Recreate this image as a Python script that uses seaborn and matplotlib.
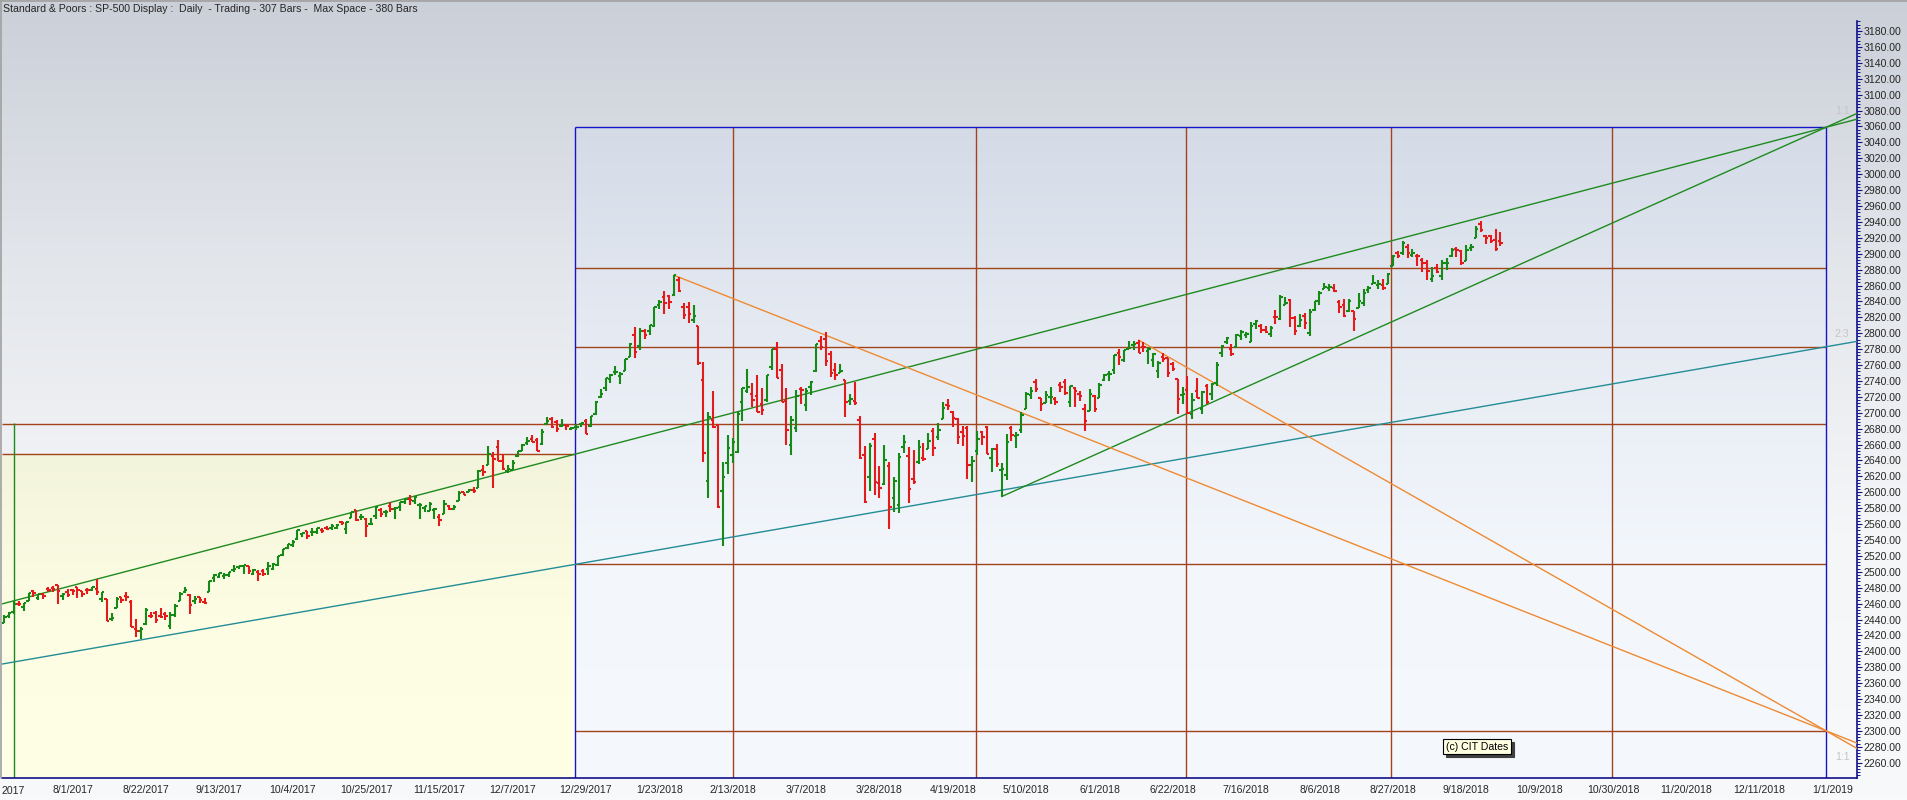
import numpy as np
import pandas as pd
import matplotlib.pyplot as plt
import seaborn as sns
from matplotlib.colors import LinearSegmentedColormap
from matplotlib.ticker import FixedLocator, FormatStrFormatter
import matplotlib.transforms as mtransforms

sns.set_style("white")
plt.rcParams['font.family'] = ['Liberation Sans', 'DejaVu Sans']

# ---- data: S&P-500 daily bars, 7/12/2017 .. 9/27/2018 (bar 1 .. 307) ----
opens = [
    2435.8, 2444.0, 2449.2, 2459.5, 2455.9, 2463.9, 2475.6, 2467.4, 2472.0, 2477.9, 2479.9, 2482.8, 2469.1, 2475.0,
    2477.1, 2480.4, 2476.0, 2476.9, 2477.1, 2478.4, 2465.4, 2465.4, 2441.0, 2454.0, 2468.6, 2470.0, 2462.0, 2427.6, 2425.5, 2433.8, 2444.9, 2447.9, 2444.7, 2447.4, 2431.9, 2446.1, 2462.7,
    2474.4, 2470.4, 2463.8, 2468.1, 2462.3, 2474.5, 2491.9, 2493.9, 2494.6, 2495.7, 2502.5, 2506.3, 2506.8, 2507.2, 2497.3, 2499.4, 2501.0, 2503.3, 2503.4, 2509.0,
    2521.2, 2530.3, 2533.5, 2540.9, 2547.4, 2551.4, 2549.9, 2550.3, 2552.9, 2555.7, 2555.6, 2555.7, 2562.9, 2553.4, 2567.6, 2578.1, 2568.7, 2566.5, 2560.1, 2570.3, 2577.8, 2575.0,
    2583.2, 2579.5, 2581.9, 2587.5, 2592.1, 2588.7, 2584.0, 2580.2, 2576.5, 2577.8, 2569.4, 2572.9, 2582.9, 2579.5, 2589.2, 2600.3, 2600.4, 2602.7, 2605.9, 2627.8, 2633.9,
    2645.1, 2657.2, 2639.8, 2626.2, 2628.4, 2646.2, 2652.2, 2661.7, 2667.6, 2665.9, 2660.6, 2685.9, 2692.7, 2688.2, 2683.0, 2684.2, 2679.1, 2682.1, 2686.1, 2689.2,
    2683.7, 2697.9, 2719.3, 2731.3, 2742.7, 2751.2, 2745.6, 2752.0, 2770.2, 2798.0, 2784.0, 2802.4, 2802.6, 2809.2, 2835.1, 2845.4, 2846.2, 2847.5, 2867.2, 2832.7, 2832.4,
    2816.5, 2808.9, 2741.1, 2614.8, 2691.0, 2685.0, 2601.8, 2636.8, 2646.3, 2651.2, 2713.5, 2727.1, 2723.0, 2720.5, 2710.4, 2715.8, 2757.4, 2780.5, 2753.8,
    2715.2, 2658.9, 2681.1, 2730.2, 2710.2, 2732.8, 2752.9, 2790.5, 2792.3, 2774.1, 2754.3, 2750.6, 2741.4, 2715.1, 2715.0, 2691.4, 2646.7, 2619.4, 2667.6, 2611.3, 2610.4,
    2633.5, 2592.2, 2584.0, 2657.4, 2645.8, 2617.2, 2638.4, 2643.0, 2653.8, 2676.9, 2670.1, 2692.7, 2710.1, 2701.2, 2692.6, 2675.4, 2680.8, 2634.9, 2651.7, 2675.5, 2682.5,
    2643.0, 2654.2, 2628.1, 2621.5, 2680.3, 2670.3, 2678.1, 2705.0, 2722.7, 2738.3, 2718.6, 2712.6, 2719.7, 2717.4, 2735.4, 2738.3, 2714.0, 2730.9, 2723.6, 2705.1, 2702.4, 2721.0,
    2718.7, 2741.7, 2748.5, 2753.3, 2774.8, 2765.8, 2780.2, 2785.6, 2787.9, 2783.2, 2777.8, 2765.8, 2752.0, 2769.7, 2769.3, 2760.8, 2742.9, 2722.1, 2728.5, 2698.7, 2727.1,
    2705.0, 2733.3, 2724.2, 2737.7, 2775.6, 2788.6, 2779.8, 2783.1, 2796.9, 2797.4, 2789.3, 2811.4, 2809.4, 2804.6, 2799.2, 2820.7, 2817.7, 2835.5, 2842.4, 2819.0, 2809.7,
    2821.2, 2800.5, 2829.6, 2840.3, 2855.9, 2856.8, 2857.2, 2838.9, 2835.5, 2827.9, 2828.0, 2831.4, 2838.3, 2853.9, 2861.5, 2861.0, 2860.3, 2862.4, 2884.7, 2901.5, 2900.6, 2908.9, 2898.4,
    2897.0, 2891.6, 2888.6, 2868.3, 2881.4, 2871.6, 2888.3, 2896.9, 2906.4, 2903.8, 2890.7, 2906.6, 2919.7, 2936.8, 2921.8, 2921.8, 2917.0, 2916.0,
]
highs = [
    2445.8, 2449.3, 2463.5, 2462.8, 2460.9, 2473.8, 2477.6, 2472.5, 2473.1, 2481.2, 2481.7, 2484.0, 2473.5, 2477.9,
    2478.5, 2480.4, 2476.3, 2480.0, 2480.9, 2490.9, 2474.4, 2465.4, 2448.1, 2468.2, 2468.6, 2474.9, 2465.0, 2440.3, 2430.6, 2454.8, 2448.9, 2450.4, 2453.9, 2449.1, 2449.2, 2460.1, 2475.0,
    2480.4, 2471.9, 2469.6, 2468.6, 2467.1, 2488.9, 2496.8, 2498.4, 2498.4, 2500.2, 2508.3, 2507.8, 2508.9, 2507.2, 2503.5, 2502.5, 2503.5, 2511.8, 2510.8, 2519.4,
    2529.2, 2535.1, 2540.5, 2552.5, 2549.4, 2551.8, 2555.2, 2555.2, 2555.3, 2557.7, 2559.5, 2559.7, 2564.1, 2562.4, 2575.4, 2578.3, 2572.2, 2567.4, 2567.1, 2582.9, 2580.0, 2578.0,
    2588.4, 2581.1, 2588.4, 2593.4, 2597.0, 2595.5, 2586.5, 2583.0, 2587.7, 2579.7, 2572.8, 2590.1, 2583.4, 2584.6, 2601.2, 2600.9, 2604.2, 2606.4, 2627.7, 2634.9, 2657.7,
    2650.6, 2665.2, 2648.7, 2634.4, 2640.2, 2651.7, 2660.3, 2669.7, 2671.9, 2668.1, 2679.6, 2694.9, 2694.2, 2691.0, 2692.6, 2685.4, 2682.7, 2685.6, 2687.7, 2692.1,
    2695.9, 2714.4, 2729.3, 2743.5, 2748.5, 2759.1, 2750.8, 2767.6, 2787.9, 2807.5, 2807.0, 2805.8, 2810.3, 2833.0, 2842.2, 2853.0, 2848.6, 2872.9, 2870.6, 2837.8, 2839.3,
    2836.0, 2808.9, 2763.4, 2701.0, 2727.7, 2685.3, 2638.7, 2672.6, 2668.8, 2702.1, 2731.5, 2754.4, 2737.6, 2747.8, 2731.3, 2747.8, 2780.0, 2789.2, 2761.5,
    2730.9, 2696.3, 2728.1, 2732.1, 2730.6, 2740.5, 2786.6, 2797.0, 2801.9, 2777.1, 2763.0, 2761.9, 2741.4, 2724.2, 2739.1, 2695.7, 2657.7, 2661.4, 2674.8, 2632.7, 2659.1,
    2638.3, 2619.1, 2649.9, 2672.1, 2656.9, 2653.6, 2665.5, 2661.4, 2674.7, 2680.3, 2686.5, 2713.3, 2717.5, 2702.8, 2693.9, 2682.9, 2683.6, 2645.3, 2676.5, 2677.4, 2682.9,
    2655.3, 2660.9, 2637.1, 2673.6, 2683.4, 2676.3, 2701.3, 2726.1, 2732.9, 2742.1, 2718.6, 2727.8, 2732.0, 2719.5, 2739.2, 2742.2, 2733.3, 2732.0, 2727.4, 2710.7, 2729.3, 2722.5,
    2736.9, 2749.2, 2752.6, 2772.4, 2779.9, 2779.4, 2790.2, 2789.8, 2791.5, 2789.1, 2782.8, 2775.0, 2765.1, 2774.9, 2769.3, 2764.2, 2742.9, 2732.9, 2746.1, 2724.3, 2743.3,
    2727.3, 2736.6, 2737.8, 2764.4, 2784.7, 2795.6, 2785.9, 2799.2, 2804.5, 2801.2, 2814.2, 2816.8, 2812.1, 2809.7, 2808.6, 2829.0, 2848.0, 2845.6, 2843.2, 2821.7, 2824.5,
    2825.8, 2829.9, 2840.4, 2853.3, 2863.4, 2862.4, 2862.5, 2842.2, 2843.4, 2843.1, 2828.0, 2850.5, 2855.6, 2859.8, 2873.2, 2867.5, 2868.8, 2876.2, 2898.3, 2903.8, 2916.5, 2912.5, 2906.3,
    2900.2, 2894.2, 2892.1, 2883.8, 2886.9, 2892.5, 2894.7, 2906.8, 2908.3, 2904.7, 2911.2, 2912.4, 2934.8, 2940.9, 2923.8, 2924.0, 2931.2, 2927.2,
]
lows = [
    2435.8, 2441.4, 2446.7, 2457.2, 2450.3, 2463.9, 2468.4, 2465.1, 2466.3, 2474.9, 2474.9, 2459.9, 2464.7, 2468.9,
    2471.1, 2466.5, 2468.9, 2472.1, 2475.9, 2470.3, 2462.1, 2437.8, 2437.9, 2454.0, 2460.8, 2463.9, 2430.0, 2417.4, 2415.3, 2433.7, 2441.4, 2436.2, 2442.2, 2439.0, 2428.2, 2443.8, 2462.7,
    2473.9, 2446.6, 2459.2, 2460.3, 2459.4, 2474.5, 2487.7, 2492.1, 2491.5, 2493.2, 2499.9, 2503.2, 2496.7, 2497.0, 2496.1, 2488.0, 2495.1, 2495.9, 2502.9, 2507.0,
    2520.4, 2528.9, 2531.8, 2540.0, 2544.0, 2541.6, 2544.4, 2547.9, 2548.3, 2552.0, 2552.6, 2554.0, 2559.2, 2547.9, 2567.6, 2564.3, 2565.6, 2544.0, 2559.5, 2566.2, 2568.3, 2568.7,
    2574.9, 2566.2, 2576.8, 2585.7, 2584.4, 2585.0, 2566.3, 2575.6, 2576.5, 2566.6, 2557.4, 2572.9, 2577.3, 2578.2, 2589.2, 2596.5, 2600.4, 2598.9, 2605.4, 2620.3, 2633.9,
    2605.5, 2639.0, 2627.7, 2624.8, 2628.4, 2644.1, 2652.2, 2659.8, 2662.9, 2652.0, 2659.1, 2685.9, 2680.7, 2676.1, 2682.4, 2678.1, 2677.9, 2678.9, 2682.7, 2673.6,
    2682.4, 2697.8, 2719.1, 2727.9, 2737.6, 2747.9, 2736.1, 2752.0, 2769.6, 2768.6, 2778.4, 2792.6, 2798.1, 2808.1, 2830.6, 2824.8, 2830.9, 2846.2, 2851.5, 2818.3, 2813.0,
    2812.7, 2760.0, 2638.2, 2593.1, 2681.3, 2580.6, 2532.7, 2622.5, 2637.1, 2648.9, 2689.8, 2725.1, 2706.8, 2701.3, 2697.8, 2713.7, 2753.8, 2744.2, 2713.5,
    2659.7, 2647.3, 2675.8, 2711.3, 2701.7, 2722.7, 2751.5, 2779.3, 2758.7, 2744.4, 2741.5, 2750.0, 2694.6, 2710.1, 2709.8, 2641.6, 2585.9, 2601.8, 2596.1, 2593.1, 2609.7,
    2553.8, 2575.5, 2573.6, 2649.6, 2586.3, 2610.8, 2635.8, 2639.3, 2653.8, 2645.1, 2665.2, 2692.1, 2703.6, 2681.9, 2660.6, 2657.7, 2617.3, 2612.7, 2647.2, 2659.0, 2648.0,
    2625.4, 2631.7, 2594.6, 2615.3, 2664.7, 2655.2, 2674.1, 2704.5, 2717.5, 2725.9, 2701.9, 2712.2, 2711.4, 2709.2, 2725.7, 2721.9, 2707.4, 2707.4, 2715.0, 2676.8, 2702.4, 2700.7,
    2718.7, 2740.5, 2739.5, 2748.5, 2760.2, 2763.6, 2779.9, 2778.8, 2774.7, 2776.5, 2761.7, 2757.1, 2743.2, 2763.9, 2744.4, 2752.7, 2698.7, 2711.3, 2698.9, 2692.0, 2718.0,
    2699.0, 2711.2, 2716.0, 2733.5, 2770.7, 2786.2, 2770.8, 2781.5, 2791.7, 2793.4, 2789.2, 2805.9, 2799.8, 2800.0, 2795.1, 2811.1, 2817.0, 2835.3, 2808.3, 2798.1, 2808.1,
    2805.9, 2796.3, 2827.4, 2836.0, 2855.9, 2853.1, 2852.0, 2825.8, 2819.9, 2826.6, 2802.5, 2831.4, 2833.7, 2850.6, 2861.3, 2856.1, 2854.0, 2862.4, 2884.7, 2894.0, 2898.4, 2895.2, 2895.8,
    2885.1, 2876.9, 2867.3, 2864.1, 2875.9, 2867.3, 2879.2, 2896.4, 2895.8, 2886.2, 2890.4, 2903.8, 2919.7, 2927.1, 2912.6, 2913.7, 2903.3, 2909.3,
]
closes = [
    2443.3, 2447.8, 2459.3, 2459.1, 2460.6, 2473.8, 2473.5, 2472.5, 2469.9, 2477.1, 2477.8, 2475.4, 2472.1, 2470.3,
    2476.4, 2477.6, 2472.2, 2476.8, 2480.9, 2474.9, 2474.0, 2438.2, 2441.3, 2465.8, 2464.6, 2468.1, 2430.0, 2425.6, 2428.4, 2452.5, 2444.0, 2439.0, 2443.1, 2444.2, 2446.3, 2457.6, 2471.7,
    2476.6, 2457.9, 2465.5, 2465.1, 2461.4, 2488.1, 2496.5, 2498.4, 2495.6, 2500.2, 2503.9, 2506.7, 2508.2, 2500.6, 2502.2, 2496.7, 2496.8, 2507.0, 2510.1, 2519.4,
    2529.1, 2534.6, 2537.7, 2552.1, 2549.3, 2544.7, 2550.6, 2555.2, 2550.9, 2553.2, 2557.6, 2559.4, 2561.3, 2562.1, 2575.2, 2565.0, 2569.1, 2557.2, 2560.4, 2581.1, 2572.8, 2575.3,
    2579.4, 2579.9, 2587.8, 2591.1, 2590.6, 2594.4, 2584.6, 2582.3, 2584.8, 2578.9, 2564.6, 2585.6, 2578.9, 2582.1, 2599.0, 2597.1, 2602.4, 2601.4, 2627.0, 2626.1, 2647.6,
    2642.2, 2639.4, 2629.6, 2629.3, 2637.0, 2651.5, 2660.0, 2664.1, 2662.9, 2652.0, 2675.8, 2690.2, 2681.5, 2679.3, 2684.6, 2683.3, 2680.5, 2682.6, 2687.5, 2673.6,
    2695.8, 2713.1, 2724.0, 2743.2, 2747.7, 2751.3, 2748.2, 2767.6, 2786.2, 2776.4, 2802.6, 2798.0, 2810.3, 2833.0, 2839.1, 2837.5, 2839.3, 2872.9, 2853.5, 2822.4, 2823.8,
    2822.0, 2762.1, 2648.9, 2695.1, 2681.7, 2581.0, 2619.6, 2656.0, 2662.9, 2698.6, 2731.2, 2732.2, 2716.3, 2701.3, 2704.0, 2747.3, 2779.6, 2744.3, 2713.8,
    2677.7, 2691.3, 2720.9, 2728.1, 2726.8, 2739.0, 2786.6, 2783.0, 2765.3, 2749.5, 2747.3, 2752.0, 2712.9, 2716.9, 2711.9, 2643.7, 2588.3, 2658.6, 2612.6, 2605.0, 2640.9,
    2581.9, 2614.5, 2644.7, 2662.8, 2604.5, 2613.2, 2656.9, 2642.2, 2664.0, 2656.3, 2677.8, 2706.4, 2708.6, 2693.1, 2670.1, 2670.3, 2634.6, 2639.4, 2666.9, 2669.9, 2648.1,
    2654.8, 2635.7, 2629.7, 2663.4, 2672.6, 2671.9, 2697.8, 2723.1, 2727.7, 2730.1, 2711.5, 2722.5, 2720.1, 2713.0, 2733.0, 2724.4, 2733.3, 2727.8, 2721.3, 2689.9, 2724.0, 2705.3,
    2734.6, 2746.9, 2748.8, 2772.4, 2770.4, 2779.0, 2782.0, 2786.9, 2775.6, 2782.5, 2779.7, 2773.8, 2762.6, 2767.3, 2749.8, 2754.9, 2717.1, 2723.1, 2699.6, 2716.3, 2718.4,
    2726.7, 2713.2, 2736.6, 2759.8, 2784.2, 2793.8, 2774.0, 2798.3, 2801.3, 2798.4, 2809.6, 2815.6, 2804.5, 2801.8, 2807.0, 2820.4, 2846.1, 2837.4, 2818.8, 2802.6, 2816.3,
    2813.4, 2827.2, 2840.4, 2850.4, 2858.5, 2857.7, 2853.6, 2833.3, 2821.9, 2840.0, 2818.4, 2840.7, 2850.1, 2857.1, 2863.0, 2861.8, 2857.0, 2874.7, 2896.7, 2897.5, 2914.0, 2901.1, 2901.5,
    2896.7, 2888.6, 2878.1, 2871.7, 2877.1, 2887.9, 2888.9, 2904.2, 2905.0, 2888.8, 2904.3, 2908.0, 2930.8, 2929.7, 2919.4, 2915.6, 2906.0, 2914.0,
]

# x axis labels, one every 15 trading bars starting at bar 0 (7/11/2017)
tick_dates = ['7/11/2017', '8/1/2017', '8/22/2017', '9/13/2017', '10/4/2017', '10/25/2017',
              '11/15/2017', '12/7/2017', '12/29/2017', '1/23/2018', '2/13/2018', '3/7/2018',
              '3/28/2018', '4/19/2018', '5/10/2018', '6/1/2018', '6/22/2018', '7/16/2018',
              '8/6/2018', '8/27/2018', '9/18/2018', '10/9/2018', '10/30/2018', '11/20/2018',
              '12/11/2018', '1/1/2019']

# gann box drawn over the chart (bar numbers / prices)
box_left, box_right, box_top = 117.8, 373.6, 3059.0
box_rows = [2882.0, 2783.0, 2685.5, 2509.4, 2300.0]
box_cols = [150.1, 199.8, 242.8, 284.7, 329.8]
yellow_top = 2648.0
start_line_bar = 3.1

# chart frame in bar numbers / prices
x_min, x_max = 0.57, 379.92
y_min, y_max = 2241.1, 3216.5

df = pd.DataFrame({'bar': np.arange(1, len(closes) + 1), 'open': opens, 'high': highs,
                   'low': lows, 'close': closes})
up_col, dn_col = '#168a16', '#e41b1b'
df['color'] = np.where(df['close'] >= df['open'], up_col, dn_col)

W, H = 1908, 800
fig = plt.figure(figsize=(W / 100, H / 100), dpi=100)

# window background gradient
bg = fig.add_axes([0, 0, 1, 1])
grad = np.linspace(0, 1, 256).reshape(-1, 1)
bg_cmap = LinearSegmentedColormap.from_list('bg', ['#cbcfd8', '#e3e6eb', '#f5f6f8', '#f8f9fa'])
bg.imshow(grad, aspect='auto', cmap=bg_cmap, extent=[0, 1, 0, 1], origin='upper')
bg.set_axis_off()

ax = fig.add_axes([2 / W, 22.3 / H, 1855 / W, 775.7 / H])
ax.patch.set_visible(False)

# yellow zone and blue box fills
yel_cmap = LinearSegmentedColormap.from_list('yel', ['#f3f4dc', '#fdfde3', '#ffffe6'])
ax.imshow(grad, aspect='auto', cmap=yel_cmap, extent=[x_min, box_left, y_min, yellow_top],
          origin='upper', zorder=0)
box_cmap = LinearSegmentedColormap.from_list('box', ['#d4dbe7', '#e6ebf3', '#f3f7fc', '#f5f8fd'])
ax.imshow(grad, aspect='auto', cmap=box_cmap, extent=[box_left, box_right, y_min, box_top],
          origin='upper', zorder=0)

brown = '#a3431c'
lw1 = 1.0
for lvl in box_rows:
    x0 = x_min if lvl == 2685.5 else box_left
    ax.hlines(lvl, x0, box_right, color=brown, lw=lw1, zorder=1)
ax.hlines(yellow_top, x_min, box_left, color=brown, lw=lw1, zorder=1)
ax.vlines(box_cols, y_min, box_top, color=brown, lw=lw1, zorder=1)
ax.vlines([box_left, box_right], y_min, box_top, color='#1414c8', lw=lw1, zorder=2)
ax.hlines(box_top, box_left, box_right, color='#1414c8', lw=lw1, zorder=2)
ax.vlines(start_line_bar, y_min, 2687.5, color='#1a8a1a', lw=lw1, zorder=2)

# trend / angle lines
def extend(p0, p1, x_end):
    slope = (p1[1] - p0[1]) / (p1[0] - p0[0])
    return [p0[0], x_end], [p0[1], p0[1] + slope * (x_end - p0[0])]

peak_bar = int(df.loc[df['high'][:200].idxmax(), 'bar'])
peak_val = df['high'][:200].max()
may_low_bar, may_low = 205, lows[204]
june_high_bar, june_high = 233, highs[232]

def trend(p0, p1, color, x_start=None):
    xs, ys = extend(p0, p1, x_max)
    if x_start is not None:
        xs0, ys0 = extend(p1, p0, x_start)
        xs = [x_start, x_max]
        ys = [ys0[1], ys[1]]
    sns.lineplot(x=xs, y=ys, color=color, lw=1.0, ax=ax, legend=False, zorder=3)

trend((box_left, yellow_top), (box_right, box_top), '#1f8a1f', x_start=x_min)
trend((box_left, 2509.4), (box_right, 2783.0), '#238c96', x_start=x_min)
trend((may_low_bar, may_low), (box_right, box_top), '#1f8a1f')
trend((peak_bar, peak_val), (box_right, 2300.0), '#ee8a33')
trend((june_high_bar, june_high), (box_right, 2300.0), '#ee8a33')

# OHLC bars
ax.vlines(df['bar'], df['low'], df['high'], colors=df['color'], lw=1.5, zorder=4)
ax.hlines(df['open'], df['bar'] - 0.5, df['bar'], colors=df['color'], lw=1.5, zorder=4)
ax.hlines(df['close'], df['bar'], df['bar'] + 0.5, colors=df['color'], lw=1.5, zorder=4)

ax.set_xlim(x_min, x_max)
ax.set_ylim(y_min, y_max)

# axes styling
navy = '#10108a'
for s in ['top', 'left']:
    ax.spines[s].set_visible(False)
ax.spines['right'].set_color(navy)
ax.spines['right'].set_bounds(y_min, 3193)
ax.spines['bottom'].set_color(navy)
ax.spines['right'].set_linewidth(1.2)
ax.spines['bottom'].set_linewidth(1.2)

ax.yaxis.tick_right()
ax.yaxis.set_major_locator(FixedLocator(np.arange(2260, 3181, 20)))
ax.yaxis.set_minor_locator(FixedLocator(np.arange(2244, 3193, 4)))
ax.yaxis.set_major_formatter(FormatStrFormatter('%.2f'))
ax.tick_params(axis='y', which='major', direction='out', length=3.8, width=0.8, color=navy,
               labelsize=7.6, pad=0.8, right=True, left=False)
ax.tick_params(axis='y', which='minor', direction='out', length=1.8, width=0.7, color=navy,
               right=True, left=False)

tick_pos = np.arange(0, 15 * len(tick_dates), 15)
ax.set_xticks(tick_pos[1:])
ax.set_xticklabels(tick_dates[1:])
ax.xaxis.set_minor_locator(FixedLocator(np.arange(3, 380, 3)))
ax.tick_params(axis='x', which='major', direction='out', length=4.3, width=0.8, color=navy,
               labelsize=7.6, pad=0.6)
ax.tick_params(axis='x', which='minor', direction='out', length=2.2, width=0.7, color=navy)
# first label (7/11/2017) sits on the left edge; only its year part shows
fig.text(1 / W, 1 - 791 / H, tick_dates[0].split('/')[-1], ha='left', va='center', fontsize=7.6)
ax.set_xlabel('')
ax.set_ylabel('')
ax.grid(False)

# ratio labels
for bar, lvl, txt in [(376.9, 3080.0, '1:1'), (376.9, 2799.0, '2:3'), (376.9, 2267.0, '1:1')]:
    ax.text(bar, lvl, txt, color='#c4c4c4', fontsize=7.6, ha='center', va='center', zorder=5)

# CIT dates tag with shadow
shadow = mtransforms.offset_copy(ax.transData, fig=fig, x=2.2, y=-2.2, units='points')
ax.text(302.2, 2280.0, '(c) CIT Dates', fontsize=7.6, ha='center', va='center', color='#404040',
        transform=shadow, zorder=5,
        bbox=dict(boxstyle='square,pad=0.25', fc='#404040', ec='#404040', lw=0.8))
ax.text(302.2, 2280.0, '(c) CIT Dates', fontsize=7.6, ha='center', va='center', color='black',
        zorder=6, bbox=dict(boxstyle='square,pad=0.25', fc='#ffffe1', ec='black', lw=0.8))

# title and window border
fig.text(3 / W, 1 - 8.5 / H, 'Standard & Poors : SP-500 Display :  Daily  - Trading - 307 Bars -  '
         'Max Space - 380 Bars', fontsize=7.6, ha='left', va='center')
fig.add_artist(plt.Line2D([0, 1], [1 - 0.6 / H, 1 - 0.6 / H], color='#a0a0a0', lw=1.2))
fig.add_artist(plt.Line2D([0.6 / W, 0.6 / W], [22.3 / H, 1], color='#a0a0a0', lw=1.2))

fig.savefig('out.png', dpi=100)
